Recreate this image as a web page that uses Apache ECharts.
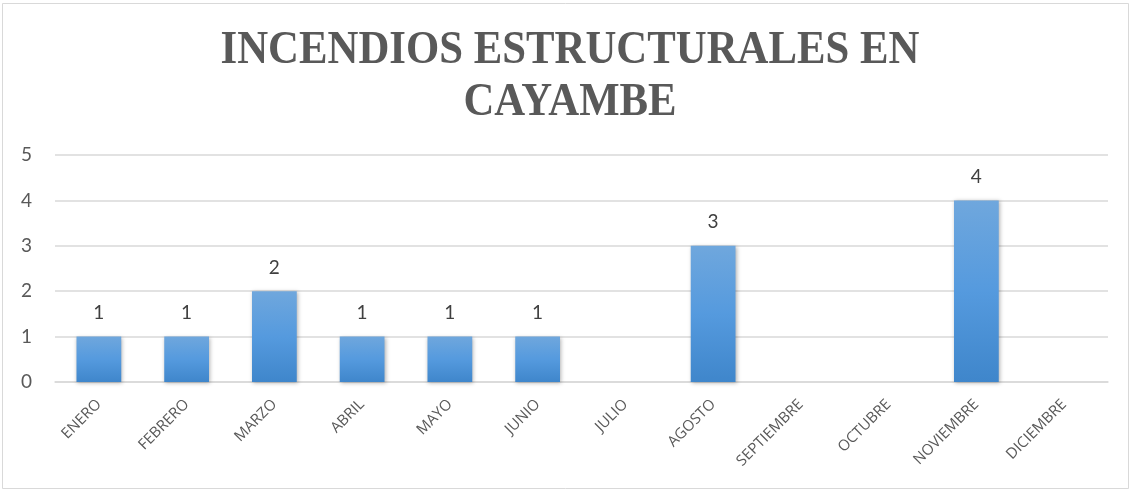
<!DOCTYPE html>
<html><head><meta charset="utf-8">
<script src="https://cdn.jsdelivr.net/npm/echarts@6/dist/echarts.min.js"></script>
<style>html,body{margin:0;padding:0;background:#fff}#c{width:1132px;height:492px}</style>
</head><body><div id="c"></div>
<script>
const categories = ['ENERO','FEBRERO','MARZO','ABRIL','MAYO','JUNIO','JULIO','AGOSTO','SEPTIEMBRE','OCTUBRE','NOVIEMBRE','DICIEMBRE'];
const incendios = [1,1,2,1,1,1,null,3,null,null,4,null];
const titleText = 'INCENDIOS ESTRUCTURALES EN\nCAYAMBE';

const chart = echarts.init(document.getElementById('c'));
chart.setOption({
  animation:false,
  backgroundColor:'#fff',
  graphic:[
    {type:'rect', shape:{x:2.5,y:3.5,width:1126,height:485}, style:{fill:null, stroke:'#d9d9d9', lineWidth:1}, z:-1},
    {type:'text', x:570, y:77, originX:0, originY:0, scaleX:0.93,
     style:{text:titleText, fill:'#595959', font:'bold 46px "Liberation Serif", "DejaVu Serif", serif', align:'center', verticalAlign:'middle', lineHeight:52}}
  ],
  grid:{left:55, right:24, top:155, bottom:110, containLabel:false},
  xAxis:{type:'category', data:categories,
    axisLine:{lineStyle:{color:'#d9d9d9', width:1.5}}, axisTick:{show:false},
    axisLabel:{rotate:45, color:'#595959', fontFamily:'"Open Sans", "Noto Sans", sans-serif', fontSize:15, margin:20, interval:0, hideOverlap:false}},
  yAxis:{type:'value', min:0, max:5, interval:1,
    axisLine:{show:false}, axisTick:{show:false},
    splitLine:{lineStyle:{color:'#d9d9d9', width:1.5}},
    axisLabel:{color:'#595959', fontFamily:'Lato', fontSize:19, margin:23}},
  series:[{type:'bar', data:incendios, barWidth:'51%',
    itemStyle:{color:new echarts.graphic.LinearGradient(0,0,0,1,[{offset:0,color:'#6fa7dd'},{offset:0.5,color:'#559ade'},{offset:1,color:'#3f86cb'}]),
      shadowColor:'rgba(0,0,0,0.3)', shadowBlur:4, shadowOffsetX:1, shadowOffsetY:1},
    label:{show:true, position:'top', distance:14, color:'#404040', fontFamily:'Lato', fontSize:19}}]
});
</script></body></html>
